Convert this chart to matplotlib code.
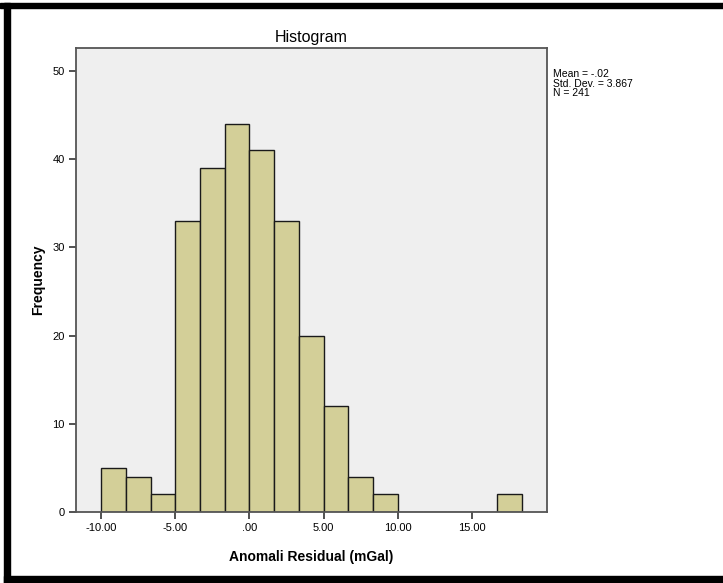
import numpy as np
import matplotlib
matplotlib.use("Agg")
import matplotlib.pyplot as plt
from matplotlib.patches import Rectangle

plt.rcParams['font.family'] = ['Liberation Sans', 'DejaVu Sans']

# Histogram of residual anomalies (mGal)
bin_start = -10.0
bin_width = 5.0 / 3.0
counts = [5, 4, 2, 33, 39, 44, 41, 33, 20, 12, 4, 2, 0, 0, 0, 0, 2]
x_ticks = [-10, -5, 0, 5, 10, 15]
x_tick_labels = ["-10.00", "-5.00", ".00", "5.00", "10.00", "15.00"]
y_ticks = [0, 10, 20, 30, 40, 50]
stats_text = "Mean = -.02\nStd. Dev. = 3.867\nN = 241"

left_edges = bin_start + bin_width * np.arange(len(counts))

fig = plt.figure(figsize=(7.23, 5.83), dpi=100)
fig.patch.set_facecolor("white")

ax = fig.add_axes([76 / 723, 1 - 512 / 583, (547 - 76) / 723, (512 - 48) / 583])
ax.set_facecolor("#EFEFEF")

ax.bar(left_edges, counts, width=bin_width, align="edge",
       color="#D3CF98", edgecolor="#1a1a1a", linewidth=1.0)

ax.set_xlim(-11.69, 20.05)
ax.set_ylim(0, 52.6)
ax.set_xticks(x_ticks)
ax.set_xticklabels(x_tick_labels)
ax.set_yticks(y_ticks)
ax.tick_params(axis="both", direction="out", length=5, width=1.2,
               labelsize=8, color="#333333", pad=3)
ax.tick_params(top=False, right=False)
for s in ax.spines.values():
    s.set_color("#555555")
    s.set_linewidth(1.3)

ax.set_title("Histogram", fontsize=11.5, pad=4)
ax.set_xlabel("Anomali Residual (mGal)", fontsize=10, fontweight="bold", labelpad=12)
ax.set_ylabel("Frequency", fontsize=10, fontweight="bold", labelpad=5)

fig.text(553 / 723, 1 - 69 / 583, stats_text, fontsize=7.5, va="top", ha="left",
         linespacing=0.95)

# outer black frame (open on the right)
frame_kw = dict(transform=fig.transFigure, color="black", clip_on=False, zorder=10)
fig.patches.append(Rectangle((0, 1 - 8 / 583), 1, 5 / 583, **frame_kw))
fig.patches.append(Rectangle((4 / 723, 0), 6 / 723, 1 - 3 / 583, **frame_kw))
fig.patches.append(Rectangle((4 / 723, 0), 1, 7 / 583, **frame_kw))

fig.savefig("out.png", dpi=100)
